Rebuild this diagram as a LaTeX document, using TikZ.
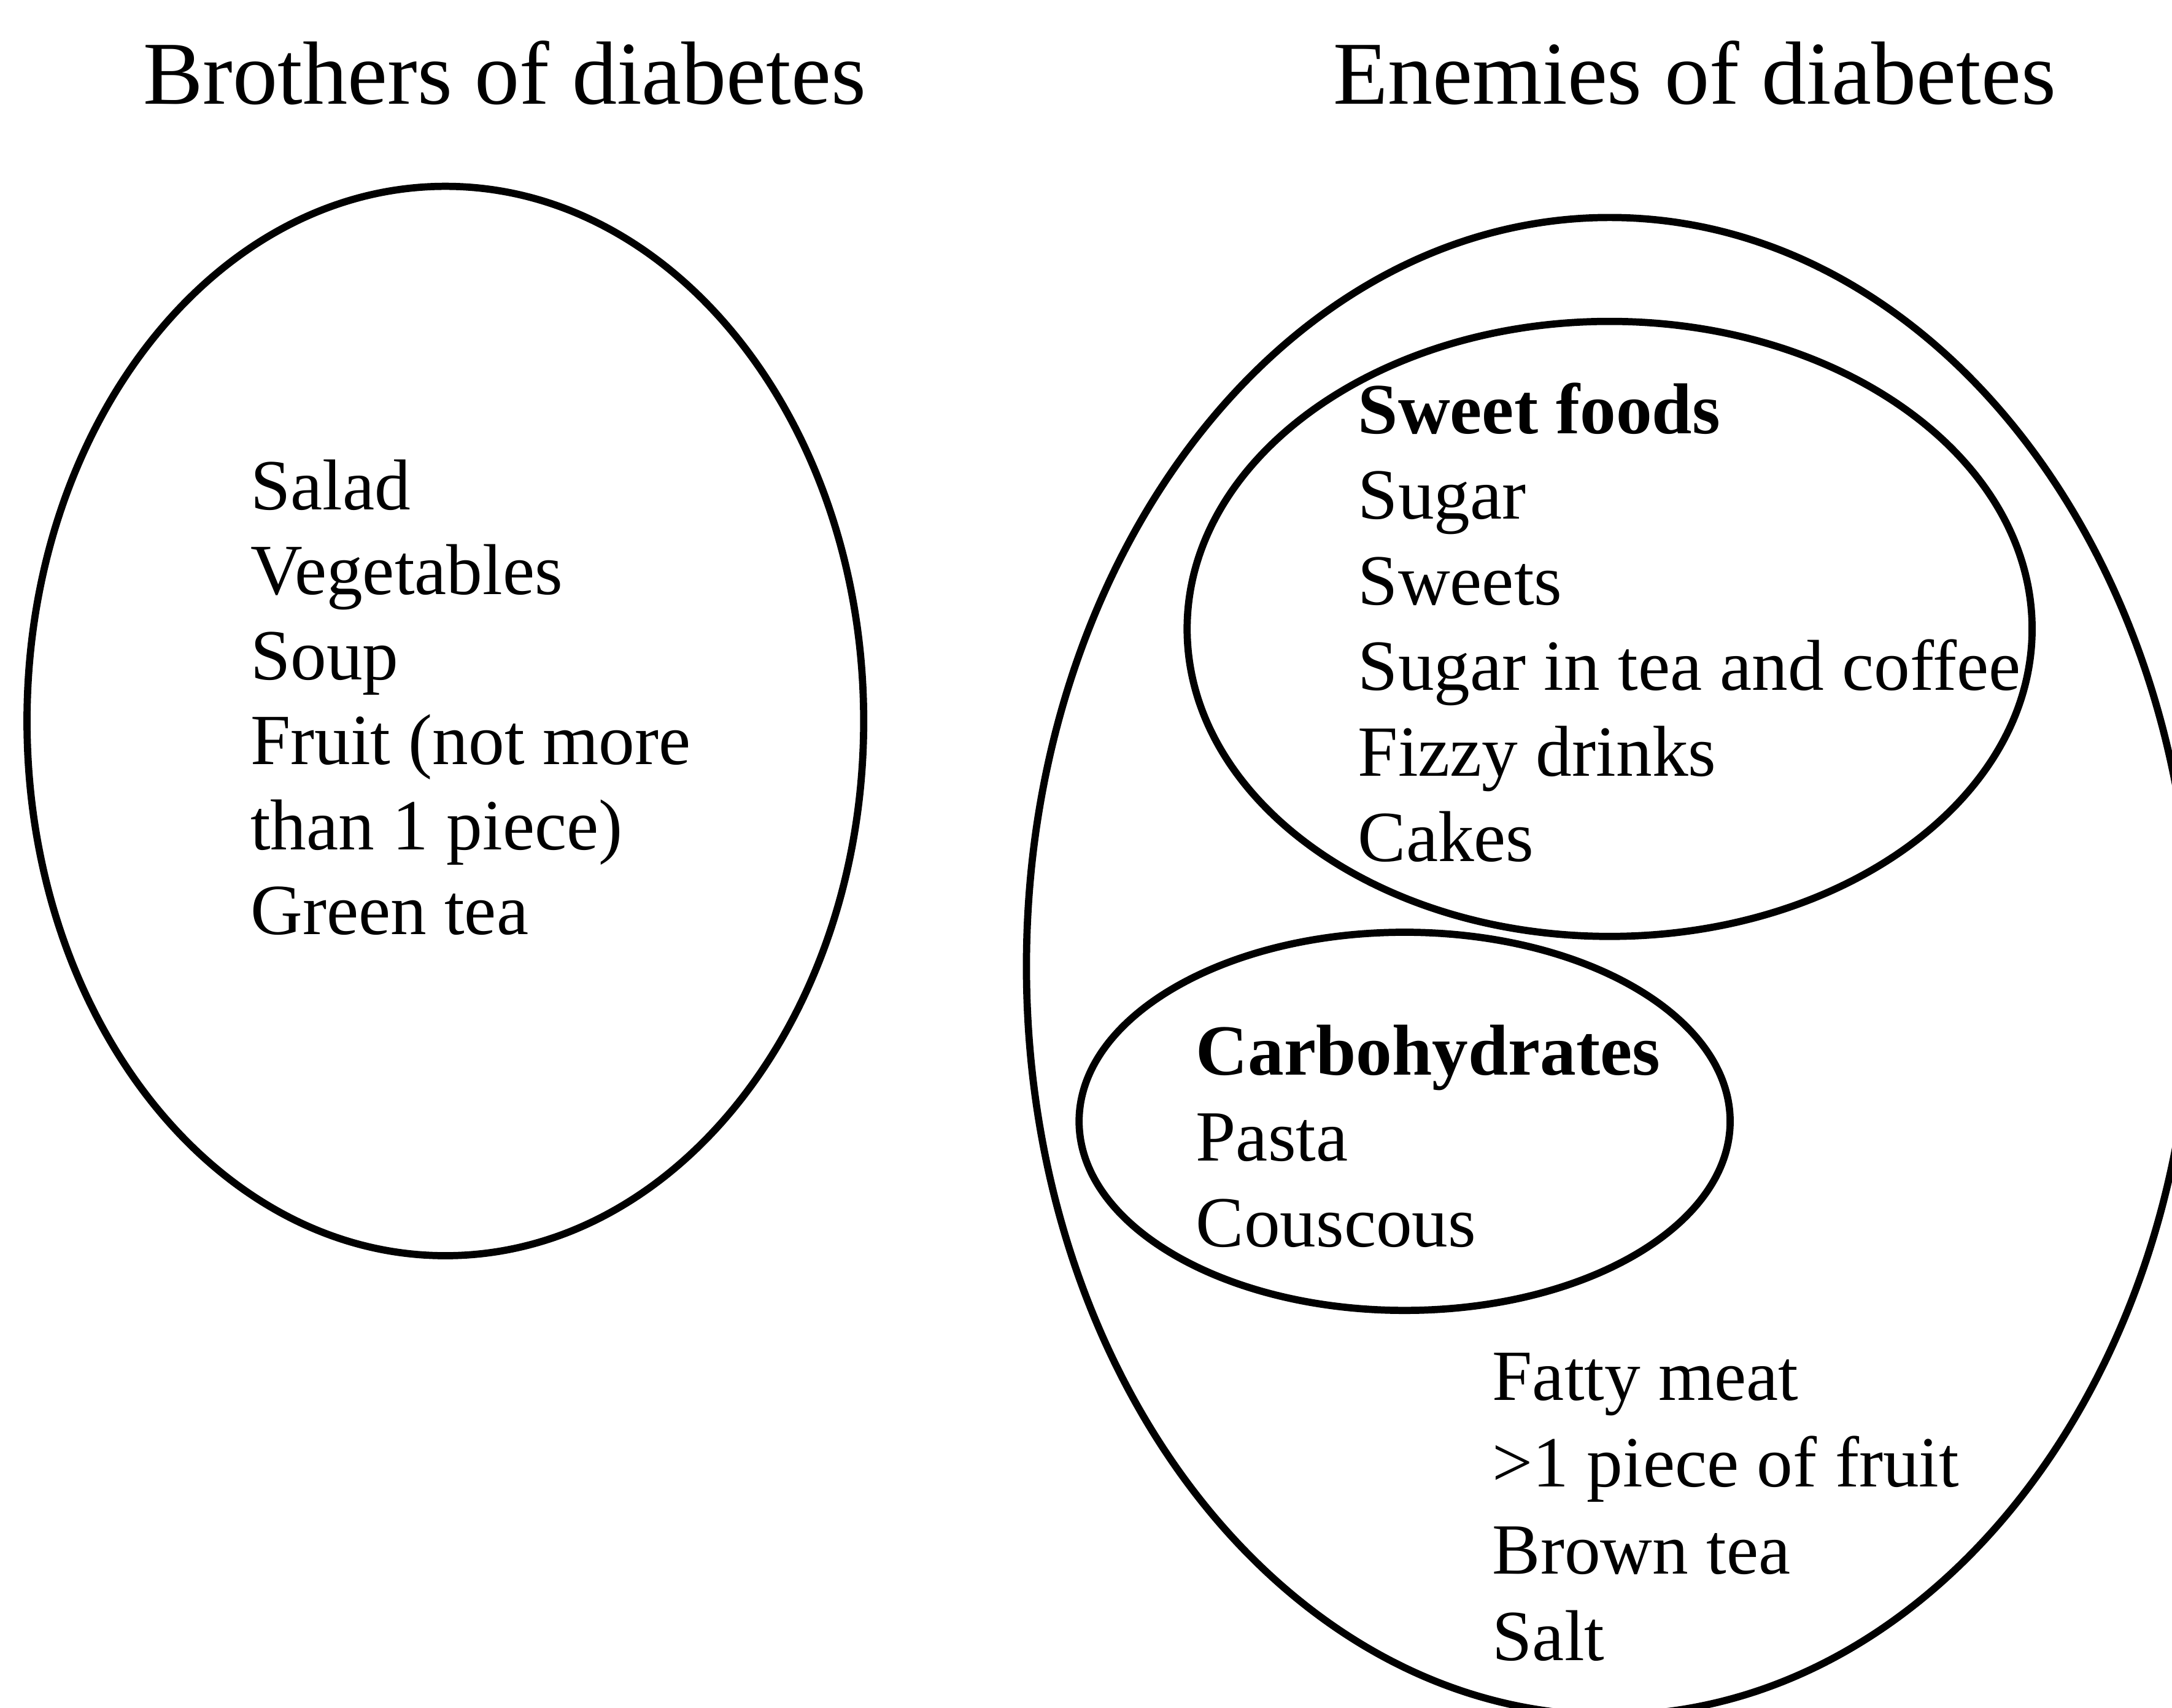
\documentclass[tikz,border=0pt]{standalone}
\usepackage{fontspec}
\setmainfont{Liberation Serif}
\begin{document}
\begin{tikzpicture}[x=0.5pt,y=-0.5pt,
  lbl/.style={anchor=base west, inner sep=0pt, font=\fontsize{26}{31}\selectfont},
  ttl/.style={anchor=base west, inner sep=0pt, font=\fontsize{32.4}{38}\selectfont},
  ring/.style={draw=black, line width=2.6pt}]
\useasboundingbox (0,0) rectangle (1568,1233);
\begin{scope}
\clip (0,0) rectangle (1568,1233);
\draw[ring] (321.5,520.5) ellipse [x radius=302, y radius=386];
\draw[ring] (1162,697.6) ellipse [x radius=421, y radius=540.6];
\draw[ring] (1162,454) ellipse [x radius=305, y radius=222];
\draw[ring] (1014,809.5) ellipse [x radius=235, y radius=136.5];
\end{scope}
% titles
\node[ttl] (t1) at (103,75) {Brothers of diabetes};
\node[ttl] (t2) at (962,75) {Enemies of diabetes};
% brothers
\node[lbl] (b1) at (180.5,368) {Salad};
\node[lbl] (b2) at (180.5,429.3) {Vegetables};
\node[lbl] (b3) at (180.5,490.6) {Soup};
\node[lbl] (b4) at (180.5,551.9) {Fruit (not more};
\node[lbl] (b5) at (180.5,613.2) {than 1 piece)};
\node[lbl] (b6) at (180.5,674.5) {Green tea};
% sweet foods
\node[lbl] (s1) at (980,313) {\textbf{Sweet foods}};
\node[lbl] (s2) at (980,374.8) {Sugar};
\node[lbl] (s3) at (980,436.6) {Sweets};
\node[lbl] (s4) at (980,498.4) {Sugar in tea and coffee};
\node[lbl] (s5) at (980,560.2) {Fizzy drinks};
\node[lbl] (s6) at (980,622) {Cakes};
% carbohydrates
\node[lbl] (c1) at (863,776) {\textbf{Carbohydrates}};
\node[lbl] (c2) at (863,838) {Pasta};
\node[lbl] (c3) at (863,900) {Couscous};
% others
\node[lbl] (f1) at (1077,1011) {Fatty meat};
\node[lbl] (f2) at (1077,1073.5) {>1 piece of fruit};
\node[lbl] (f3) at (1077,1136) {Brown tea};
\node[lbl] (f4) at (1077,1198.5) {Salt};
\end{tikzpicture}
\end{document}
